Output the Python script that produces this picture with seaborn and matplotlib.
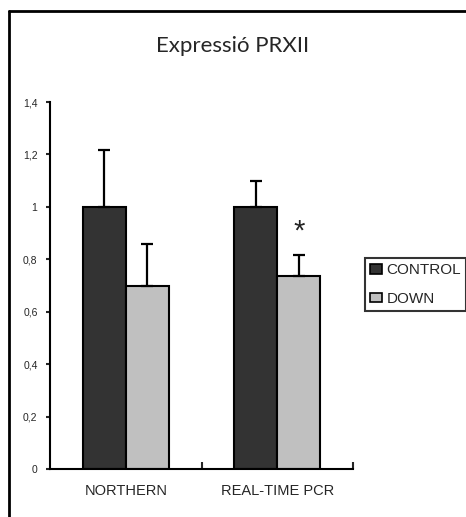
import matplotlib
matplotlib.use("Agg")
import matplotlib.pyplot as plt
from matplotlib.lines import Line2D
import seaborn as sns
import pandas as pd
import numpy as np

# Relative expression values and upper error bars
categories = ["NORTHERN", "REAL-TIME PCR"]
groups = ["CONTROL", "DOWN"]
control_vals = [1.0, 1.0]
down_vals = [0.70, 0.735]
control_err = [0.215, 0.10]
down_err = [0.16, 0.08]
yticks = [0, 0.2, 0.4, 0.6, 0.8, 1.0, 1.2, 1.4]
ytick_labels = ["0", "0,2", "0,4", "0,6", "0,8", "1", "1,2", "1,4"]

df = pd.DataFrame({
    "cat": categories * 2,
    "group": [groups[0]] * 2 + [groups[1]] * 2,
    "val": control_vals + down_vals,
    "err": control_err + down_err,
})

sns.set_theme(style="white")
plt.rcParams["font.family"] = ["Liberation Sans", "DejaVu Sans"]

fig = plt.figure(figsize=(4.66, 5.17), dpi=100)
ax = fig.add_axes([50 / 466, 1 - 469 / 517, 303 / 466, 367 / 517])

palette = {"CONTROL": "#333333", "DOWN": "#c0c0c0"}
sns.barplot(data=df, x="cat", y="val", hue="group", palette=palette,
            hue_order=groups, order=categories,
            errorbar=None, width=0.57, edgecolor="black", linewidth=1.5,
            saturation=1, ax=ax, legend=False)

bar_groups = list(ax.containers)
vals_by_group = [control_vals, down_vals]
errs_by_group = [control_err, down_err]

# Upper-only error bars centred on each bar
for cont, vals, errs in zip(bar_groups, vals_by_group, errs_by_group):
    for patch, v, e in zip(cont.patches, vals, errs):
        xc = patch.get_x() + patch.get_width() / 2
        ax.errorbar(xc, v, yerr=[[0], [e]], fmt="none",
                    ecolor="black", elinewidth=1.6, capsize=4, capthick=1.6,
                    zorder=3)

# Significance mark on the DOWN bar of the second assay
down_patch = bar_groups[1].patches[1]
ax.text(down_patch.get_x() + down_patch.get_width() / 2, 0.905, "*",
        ha="center", va="center", fontsize=21, color="#222222")

ax.set_xlim(-0.5, 1.5)
ax.set_ylim(0, 1.4)
ax.set_yticks(yticks)
ax.set_yticklabels(ytick_labels, fontsize=7.5)
ax.set_xticks([0, 1])
ax.set_xticklabels(categories, fontsize=10.5)
ax.set_xticks([0.5, 1.5], minor=True)
ax.tick_params(axis="x", which="major", length=0, pad=11)
ax.tick_params(axis="x", which="minor", length=5, width=1.5, direction="in",
               bottom=True)
ax.tick_params(axis="y", length=3, width=1.5, direction="out", left=True, pad=6)
ax.set_xlabel("")
ax.set_ylabel("")
for side in ["top", "right"]:
    ax.spines[side].set_visible(False)
for side in ["left", "bottom"]:
    ax.spines[side].set_color("black")
    ax.spines[side].set_linewidth(1.5)

fig.text(233 / 466, 1 - 46 / 517, "Expressió PRXII", ha="center",
         va="center", fontsize=16, family=["Lato", "DejaVu Sans"])

# Legend
handles = [plt.Rectangle((0, 0), 1, 1, facecolor=palette[g], edgecolor="black",
                         linewidth=1.2) for g in groups]
leg = fig.legend(handles, groups, loc="upper left",
                 bbox_to_anchor=(365 / 466, 1 - 258 / 517), fontsize=11,
                 frameon=True, fancybox=False, handlelength=0.75,
                 handleheight=0.55, handletextpad=0.3, borderpad=0.35,
                 labelspacing=0.95, borderaxespad=0)
leg.get_frame().set_edgecolor("black")
leg.get_frame().set_linewidth(1.5)

# Outer frame lines (left and top)
fig.add_artist(Line2D([9 / 466, 9 / 466], [0, 1 - 11 / 517], color="black",
                      linewidth=2, transform=fig.transFigure))
fig.add_artist(Line2D([9 / 466, 1], [1 - 11 / 517, 1 - 11 / 517],
                      color="black", linewidth=2, transform=fig.transFigure))

fig.savefig("out.png", dpi=100)
